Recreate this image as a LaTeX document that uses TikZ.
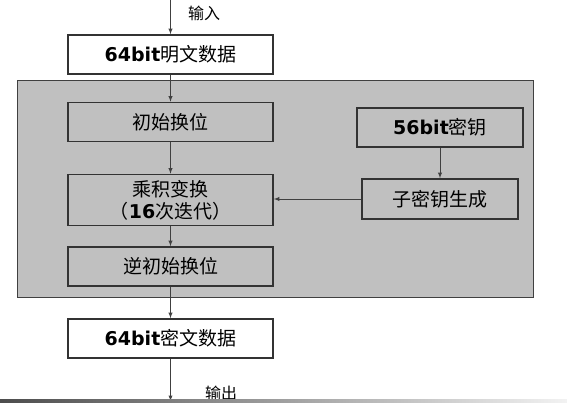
\documentclass[tikz,border=0pt]{standalone}
\usepackage{fontspec}
\setmainfont{Noto Sans CJK SC}
\newfontfamily\bitfont{DejaVu Sans}
\usetikzlibrary{arrows}
\definecolor{boxline}{RGB}{51,51,51}
\definecolor{panelgray}{RGB}{192,192,192}
\definecolor{flowline}{RGB}{64,64,64}
\newcommand{\bits}[1]{{\bitfont\bfseries #1}}

\begin{document}
\begin{tikzpicture}[x=1pt, y=-1pt,
        stagebox/.style={draw=boxline, line width=1.6pt, minimum width=205pt, minimum height=39pt,
                         inner sep=0pt, align=center, font=\fontsize{19}{22}\selectfont},
        flow/.style={draw=flowline, line width=0.9pt, -latex},
        flowlabel/.style={font=\fontsize{16}{18}\selectfont}]
            \useasboundingbox (0,0) rectangle (567,402);
            % Panel
            \draw[fill=panelgray, draw=flowline, line width=0.8pt] (17,80) rectangle (533,297);
            % Main column
            \node[stagebox, fill=white]                        (plain)   at (170.5, 54.5) {\bits{64bit}明文数据};
            \node[stagebox]                                    (ip)      at (170.5,122.0) {初始换位};
            \node[stagebox, minimum height=51pt]               (product) at (170.5,200.0) {乘积变换\\（\bits{16}次迭代）};
            \node[stagebox]                                    (invip)   at (170.5,266.5) {逆初始换位};
            \node[stagebox, fill=white]                        (cipher)  at (170.5,338.5) {\bits{64bit}密文数据};
            % Key column
            \node[stagebox, minimum width=166pt]               (key)     at (440.0,127.5) {\bits{56bit}密钥};
            \node[stagebox, minimum width=156pt, minimum height=40pt] (subkey) at (440.0,199.0) {子密钥生成};
            % In & out
            \coordinate (in)  at (170.5,  0);
            \coordinate (out) at (170.5,401);
            \node[flowlabel] (inlbl)  at (204, 13) {输入};
            \node[flowlabel] (outlbl) at (221,393) {输出};
            % Connectors
            \draw[flow] (in)           -- (plain.north);
            \draw[flow] (plain.south)  -- (ip.north);
            \draw[flow] (ip.south)     -- (product.north);
            \draw[flow] (product.south)-- (invip.north);
            \draw[flow] (invip.south)  -- (cipher.north);
            \draw[flow] (cipher.south) -- (out);
            \draw[flow] (key.south)    -- (subkey.north);
            \draw[flow] (subkey.west)  -- (subkey.west -| product.east);
            % Bottom bar
            \shade[left color=black!70, middle color=black!35, right color=black!5] (0,399) rectangle (567,402);
\end{tikzpicture}
\end{document}
